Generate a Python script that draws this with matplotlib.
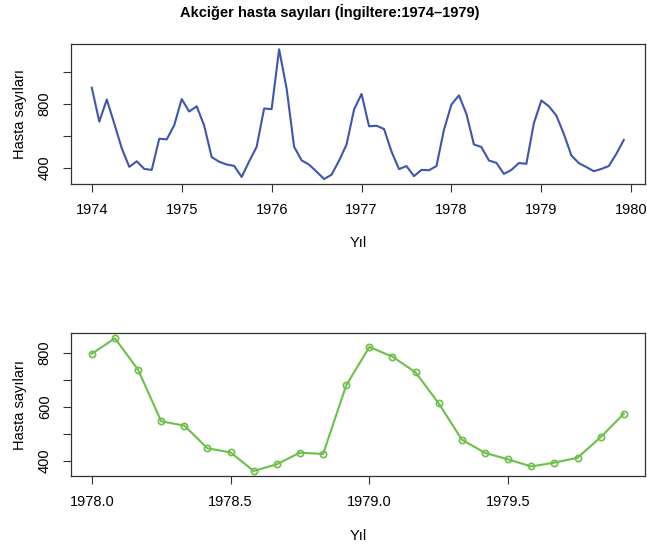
import numpy as np
import matplotlib
matplotlib.use("Agg")
import matplotlib.pyplot as plt

# female lung deaths, UK, monthly 1974-1979
years = [1974, 1975, 1976, 1977, 1978, 1979]
counts_1974 = [901, 689, 827, 677, 522, 406, 441, 393, 387, 582, 578, 666]
counts_1975 = [830, 752, 785, 664, 467, 438, 421, 412, 343, 440, 531, 771]
counts_1976 = [767, 1141, 896, 532, 447, 420, 376, 330, 357, 445, 546, 764]
counts_1977 = [862, 660, 663, 643, 502, 392, 411, 348, 387, 385, 411, 638]
counts_1978 = [796, 853, 737, 546, 530, 446, 431, 362, 387, 430, 425, 679]
counts_1979 = [821, 785, 727, 612, 478, 429, 405, 379, 393, 411, 487, 574]

top_xticks = [1974, 1975, 1976, 1977, 1978, 1979, 1980]
top_yticks = [400, 600, 800, 1000]
top_ylabels = ["400", "", "800", ""]
bottom_xticks = [1978.0, 1978.5, 1979.0, 1979.5]
bottom_yticks = [400, 500, 600, 700, 800]
bottom_ylabels = ["400", "", "600", "", "800"]

plt.rcParams["font.family"] = ["Liberation Sans", "DejaVu Sans"]

all_counts = np.array(counts_1974 + counts_1975 + counts_1976 +
                      counts_1977 + counts_1978 + counts_1979)
t_all = years[0] + np.arange(len(all_counts)) / 12.0
last2 = np.array(counts_1978 + counts_1979)
t_last2 = 1978 + np.arange(len(last2)) / 12.0


def r_limits(v):
    lo, hi = float(np.min(v)), float(np.max(v))
    pad = (hi - lo) * 0.04
    return lo - pad, hi + pad


def style_axis(ax, xticks, xlabels, yticks, ylabels):
    ax.set_xticks(xticks)
    ax.set_xticklabels(xlabels, fontsize=10.5)
    ax.set_yticks(yticks)
    ax.set_yticklabels(ylabels, fontsize=10.5, rotation=90, va="center")
    ax.tick_params(length=5.5, width=0.8, pad=8, color="#333333")
    for sp in ax.spines.values():
        sp.set_linewidth(0.9)
        sp.set_color("#333333")
    ax.set_xlabel("Yıl", fontsize=10.5, labelpad=14)
    ax.set_ylabel("Hasta sayıları", fontsize=10.5, labelpad=8)


fig = plt.figure(figsize=(6.47, 5.45), dpi=100)

ax1 = fig.add_axes([0.109, 0.662, 0.888, 0.257])
ax1.plot(t_all, all_counts, color="#3F55AE", linewidth=1.5)
ax1.set_xlim(*r_limits(t_all))
ax1.set_ylim(*r_limits(all_counts))
style_axis(ax1, top_xticks, [str(y) for y in top_xticks], top_yticks, top_ylabels)
fig.text(0.51, 0.978, "Akciğer hasta sayıları (İngiltere:1974–1979)",
         ha="center", va="center", fontsize=10.5, fontweight="bold")

ax2 = fig.add_axes([0.109, 0.126, 0.888, 0.263])
ax2.plot(t_last2, last2, color="#6CC04A", linewidth=1.5, marker="o",
         markersize=4.5, markerfacecolor="none", markeredgewidth=1.2)
ax2.set_xlim(*r_limits(t_last2))
ax2.set_ylim(*r_limits(last2))
style_axis(ax2, bottom_xticks, [f"{x:.1f}" for x in bottom_xticks],
           bottom_yticks, bottom_ylabels)

fig.savefig("out.png", dpi=100)
